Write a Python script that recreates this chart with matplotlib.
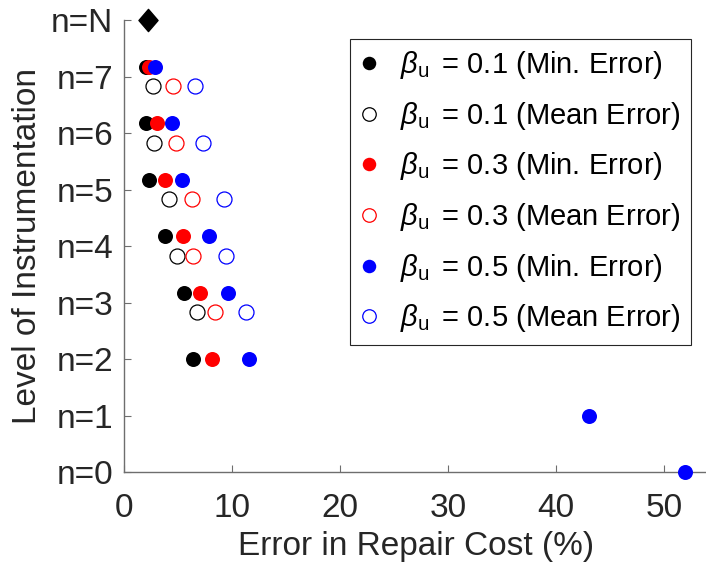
"""
scatter of repair cost error versus level of instrumentation for three beta_u values
"""
import numpy as np
import matplotlib
import matplotlib.pyplot as plt
from matplotlib.path import Path

matplotlib.use("Agg")

level_labels = ["n=0", "n=1", "n=2", "n=3", "n=4", "n=5", "n=6", "n=7", "n=N"]

# minimum error (%) per level, n=2 ... n=7
min_levels = [2, 3, 4, 5, 6, 7]
min_b01 = [6.39, 5.53, 3.77, 2.31, 2.01, 1.98]
min_b03 = [8.09, 7.01, 5.41, 3.77, 3.00, 2.29]
min_b05 = [11.57, 9.57, 7.87, 5.31, 4.42, 2.84]

# beta_u = 0.5 without instrumentation / one sensor
low_levels = [0, 1]
low_b05 = [52.0, 43.1]

# mean error (%) per level, n=3 ... n=7
mean_levels = [3, 4, 5, 6, 7]
mean_b01 = [6.70, 4.85, 4.17, 2.75, 2.69]
mean_b03 = [8.43, 6.33, 6.24, 4.76, 4.48]
mean_b05 = [11.24, 9.39, 9.23, 7.31, 6.57]

# full instrumentation
full_level = 8
full_err = 2.17


def main():
    plt.rcParams["font.family"] = ["Liberation Sans", "DejaVu Sans"]
    plt.rcParams["mathtext.fontset"] = "custom"
    plt.rcParams["mathtext.rm"] = "Liberation Sans"
    plt.rcParams["mathtext.it"] = "Liberation Sans:italic"

    fig = plt.figure(figsize=(7.06, 5.72), dpi=100)
    ax = fig.add_axes([0.1761, 0.1748, 0.8254, 0.7902])

    ms = 10.8
    shift = 0.17
    # filled markers sit slightly above the tick where a mean value exists
    y_min = np.array([lv + shift if lv in mean_levels else lv for lv in min_levels], dtype=float)
    y_mean = np.array(mean_levels, dtype=float) - shift

    colors = ["black", "red", "blue"]
    betas = ["0.1", "0.3", "0.5"]
    min_sets = [min_b01, min_b03, min_b05]
    mean_sets = [mean_b01, mean_b03, mean_b05]

    handles = []
    for col, b, mn, me in zip(colors, betas, min_sets, mean_sets):
        h1, = ax.plot(mn, y_min, "o", color=col, markersize=ms, markeredgewidth=0,
                      clip_on=False, zorder=3,
                      label=r"$\beta_{\mathrm{u}}\,$ = " + b + " (Min. Error)")
        h2, = ax.plot(me, y_mean, "o", markerfacecolor="none", markeredgecolor=col,
                      markersize=ms, markeredgewidth=0.9, clip_on=False, zorder=3,
                      label=r"$\beta_{\mathrm{u}}\,$ = " + b + " (Mean Error)")
        handles += [h1, h2]

    ax.plot(low_b05, low_levels, "o", color="blue", markersize=ms, markeredgewidth=0,
            clip_on=False, zorder=3)

    # diamond for n=N
    diamond = Path([(0, 1), (0.86, 0), (0, -1), (-0.86, 0), (0, 1)],
                   [Path.MOVETO, Path.LINETO, Path.LINETO, Path.LINETO, Path.CLOSEPOLY])
    ax.plot([full_err], [full_level], marker=diamond, color="black", markersize=16,
            linestyle="none", clip_on=False, zorder=3)

    ax.set_xlim(0, 54)
    ax.set_ylim(0, 8)
    ax.set_xticks([0, 10, 20, 30, 40, 50])
    ax.set_yticks(np.arange(len(level_labels)))
    ax.set_yticklabels(level_labels)

    ax.spines["top"].set_visible(False)
    ax.spines["right"].set_visible(False)
    for s in ["left", "bottom"]:
        ax.spines[s].set_color("#6e6e6e")
        ax.spines[s].set_linewidth(1.0)
    ax.tick_params(axis="both", direction="in", length=5, width=0.8, color="#6e6e6e",
                   labelsize=24, labelcolor="#262626")
    ax.tick_params(axis="y", pad=8)
    ax.tick_params(axis="x", pad=15)

    ax.set_xlabel("Error in Repair Cost (%)", fontsize=24, color="#262626", labelpad=5)
    ax.set_ylabel("Level of Instrumentation", fontsize=24, color="#262626", labelpad=6)

    leg = ax.legend(handles=handles, loc="upper left", bbox_to_anchor=(0.496, 0.932),
                    bbox_transform=fig.transFigure, borderaxespad=0, fontsize=21,
                    markerscale=0.9, handlelength=0.6, handletextpad=0.75,
                    labelspacing=0.64, borderpad=0.35, fancybox=False, framealpha=1)
    leg.get_frame().set_edgecolor("#262626")
    leg.get_frame().set_linewidth(0.8)

    fig.savefig("out.png", dpi=100)


if __name__ == "__main__":
    main()
